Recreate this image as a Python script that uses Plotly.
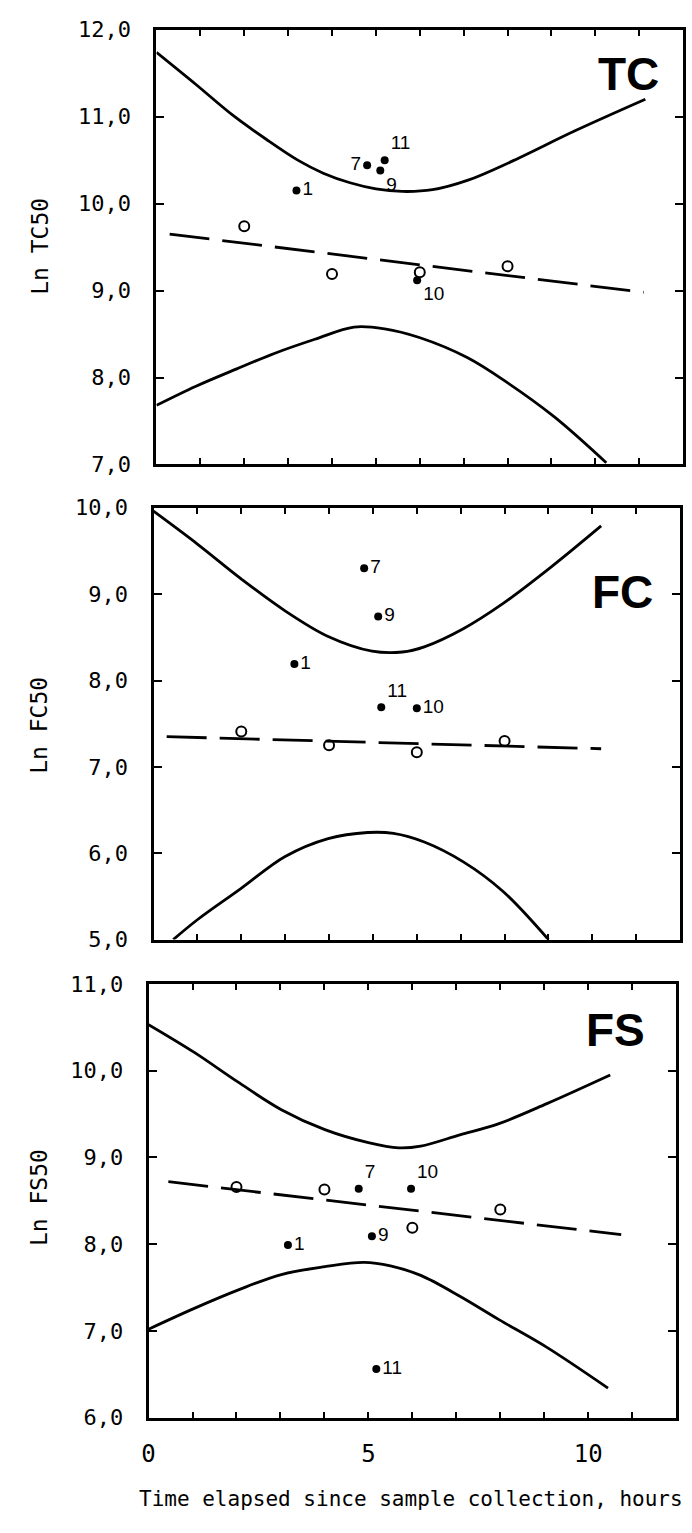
import plotly.graph_objects as go

# ---------------- data ----------------
OPEN_TIME = [2, 4, 6, 8]
TC_OPEN = [9.74, 9.19, 9.21, 9.28]
FC_OPEN = [7.41, 7.25, 7.17, 7.30]
FS_OPEN = [8.66, 8.63, 8.19, 8.40]

SAMPLE_IDS = ["1", "7", "9", "10", "11"]
TC_SAMPLE_T = [3.19, 4.80, 5.10, 5.94, 5.20]
TC_SAMPLE_Y = [10.15, 10.44, 10.38, 9.12, 10.50]
FC_SAMPLE_T = [3.21, 4.80, 5.12, 6.00, 5.19]
FC_SAMPLE_Y = [8.19, 9.30, 8.74, 7.68, 7.69]
FS_SAMPLE_T = [3.17, 4.78, 5.08, 5.97, 5.18]
FS_SAMPLE_Y = [7.99, 8.64, 8.09, 8.64, 6.56]

TC_FIT_T = [0.3, 11.1]
TC_FIT_Y = [9.65, 8.98]
FC_FIT_T = [0.3, 10.2]
FC_FIT_Y = [7.35, 7.21]
FS_FIT_T = [0.45, 10.75]
FS_FIT_Y = [8.72, 8.11]

TC_UP_T = [0, 0.9, 1.73, 2.5, 3.22, 3.8, 4.41, 5.0, 5.6, 6.29, 7.1, 8.07, 9.55, 11.14]
TC_UP_Y = [11.74, 11.37, 11.02, 10.74, 10.50, 10.35, 10.24, 10.17, 10.14, 10.16, 10.27, 10.48, 10.84, 11.20]
TC_LO_T = [0, 0.9, 1.83, 2.7, 3.61, 4.5, 5.2, 5.99, 7.08, 7.97, 9.06, 10.25]
TC_LO_Y = [7.68, 7.90, 8.10, 8.28, 8.44, 8.58, 8.56, 8.46, 8.23, 7.95, 7.55, 7.02]

FC_UP_T = [0, 1.0, 1.99, 2.99, 3.98, 4.98, 5.67, 6.17, 7.06, 7.96, 9.05, 10.2]
FC_UP_Y = [9.96, 9.58, 9.18, 8.81, 8.51, 8.34, 8.33, 8.39, 8.60, 8.89, 9.31, 9.79]
FC_LO_T = [0.45, 1.0, 1.99, 2.99, 3.98, 4.88, 5.47, 6.17, 7.06, 7.96, 9.0]
FC_LO_Y = [5.0, 5.23, 5.59, 5.96, 6.17, 6.24, 6.23, 6.13, 5.90, 5.56, 5.0]

FS_UP_T = [0, 1.04, 2.03, 3.02, 4.01, 5.0, 5.69, 6.19, 7.08, 7.97, 9.06, 10.5]
FS_UP_Y = [10.53, 10.21, 9.87, 9.55, 9.32, 9.17, 9.11, 9.13, 9.26, 9.39, 9.62, 9.95]
FS_LO_T = [0, 1.04, 2.03, 3.02, 4.01, 4.9, 5.5, 6.19, 7.08, 7.97, 9.06, 10.45]
FS_LO_Y = [7.02, 7.26, 7.47, 7.65, 7.74, 7.79, 7.75, 7.64, 7.40, 7.13, 6.81, 6.34]

X_TICKS = [0, 5, 10]
X_TICK_TEXT = ["0", "5", "10"]
TC_TICKS = [7, 8, 9, 10, 11, 12]
FC_TICKS = [5, 6, 7, 8, 9, 10]
FS_TICKS = [6, 7, 8, 9, 10, 11]

PANEL_NAMES = ["TC", "FC", "FS"]
Y_TITLES = ["Ln TC50", "Ln FC50", "Ln FS50"]
X_TITLE = "Time elapsed since sample collection, hours"

# ---------------- layout geometry (pixels) ----------------
W, H = 692, 1533
BOXES = [  # left, right, top, bottom
    (151, 683, 18, 460),
    (148, 680, 504, 943),
    (143, 676, 988, 1429),
]
Y_RANGES = [(7, 12), (5, 10), (6, 11)]
TEXTPOS = [
    ["middle right", "middle left", "bottom right", "bottom right", "top right"],
    ["middle right", "middle right", "middle right", "middle right", "top right"],
    ["middle right", "top right", "middle right", "top right", "middle right"],
]

MONO = "DejaVu Sans Mono"
fig = go.Figure()

panels = [
    (TC_UP_T, TC_UP_Y, TC_LO_T, TC_LO_Y, TC_FIT_T, TC_FIT_Y, TC_OPEN, TC_SAMPLE_T, TC_SAMPLE_Y, TC_TICKS),
    (FC_UP_T, FC_UP_Y, FC_LO_T, FC_LO_Y, FC_FIT_T, FC_FIT_Y, FC_OPEN, FC_SAMPLE_T, FC_SAMPLE_Y, FC_TICKS),
    (FS_UP_T, FS_UP_Y, FS_LO_T, FS_LO_Y, FS_FIT_T, FS_FIT_Y, FS_OPEN, FS_SAMPLE_T, FS_SAMPLE_Y, FS_TICKS),
]

for i, (ut, uy, lt, ly, ft, fy, oy, st, sy, yt) in enumerate(panels):
    n = "" if i == 0 else str(i + 1)
    xa, ya = "x" + n, "y" + n
    line = dict(color="black", width=2.8, shape="spline", smoothing=1.0)
    fig.add_trace(go.Scatter(x=ut, y=uy, mode="lines", line=line, xaxis=xa, yaxis=ya, hoverinfo="skip"))
    fig.add_trace(go.Scatter(x=lt, y=ly, mode="lines", line=line, xaxis=xa, yaxis=ya, hoverinfo="skip"))
    fig.add_trace(go.Scatter(x=ft, y=fy, mode="lines",
                             line=dict(color="black", width=2.8, dash="40px,13px"),
                             xaxis=xa, yaxis=ya))
    fig.add_trace(go.Scatter(x=OPEN_TIME, y=oy, mode="markers",
                             marker=dict(symbol="circle-open", size=10, color="black", line=dict(width=2)),
                             xaxis=xa, yaxis=ya))
    fig.add_trace(go.Scatter(x=st, y=sy, mode="markers+text", text=SAMPLE_IDS,
                             textposition=TEXTPOS[i],
                             textfont=dict(family="Liberation Sans", size=19, color="black"),
                             marker=dict(symbol="circle", size=8, color="black"),
                             xaxis=xa, yaxis=ya))

    l, r, t, b = BOXES[i]
    xdom = [l / W, r / W]
    ydom = [1 - b / H, 1 - t / H]
    fig.layout["xaxis" + n] = dict(
        domain=xdom, range=[0, 12], anchor=ya,
        showline=True, linecolor="black", linewidth=3, mirror="ticks",
        ticks="inside", ticklen=6, tickwidth=2, tickcolor="black",
        dtick=1, tick0=0,
        showticklabels=False, showgrid=False, zeroline=False,
    )
    fig.layout["yaxis" + n] = dict(
        domain=ydom, range=list(Y_RANGES[i]), anchor=xa,
        showline=True, linecolor="black", linewidth=3, mirror="ticks",
        ticks="inside", ticklen=8, tickwidth=2, tickcolor="black",
        tickvals=yt, ticktext=[f"{v},0" for v in yt],
        tickfont=dict(family=MONO, size=22, color="black"),
        ticklabelstandoff=18,
        showgrid=False, zeroline=False,
    )
    # panel name
    fig.add_annotation(text=f"<b>{PANEL_NAMES[i]}</b>", xref="paper", yref="paper",
                       x=[628, 622, 615][i] / W, y=1 - [63, 590, 1035][i] / H,
                       xanchor="center", yanchor="middle",
                       showarrow=False, font=dict(family="Liberation Sans", size=46, color="black"))
    # y title
    fig.add_annotation(text=Y_TITLES[i], xref="paper", yref="paper",
                       x=33 / W, y=1 - [238, 725, 1205][i] / H, textangle=-90,
                       xanchor="center", yanchor="middle",
                       showarrow=False, font=dict(family=MONO, size=23, color="black"))

# bottom x tick labels (only on the bottom panel)
fig.layout["xaxis3"].update(
    showticklabels=True, tickmode="array",
    tickvals=X_TICKS, ticktext=X_TICK_TEXT,
    tickfont=dict(family=MONO, size=24, color="black"),
    ticklabelstandoff=13,
)
fig.layout["xaxis3"].minor = dict(ticks="inside", ticklen=6, tickwidth=2, tickcolor="black", dtick=1, tick0=0)

fig.add_annotation(text=X_TITLE, xref="paper", yref="paper",
                   x=408 / W, y=1 - 1512 / H, xanchor="center", yanchor="middle",
                   showarrow=False, font=dict(family=MONO, size=21, color="black"))

fig.update_layout(
    width=W, height=H, showlegend=False,
    margin=dict(l=0, r=0, t=0, b=0),
    paper_bgcolor="white", plot_bgcolor="white",
)

fig.write_html(
    "out.html",
    config={"displayModeBar": False},
    post_script=(
        "document.documentElement.style.margin='0';"
        "document.documentElement.style.overflow='hidden';"
        "document.body.style.margin='0';"
        "document.body.style.overflow='hidden';"
        "var gd=document.getElementById('{plot_id}');"
        "gd.style.position='fixed';gd.style.left='0px';gd.style.top='0px';"
    ),
)
